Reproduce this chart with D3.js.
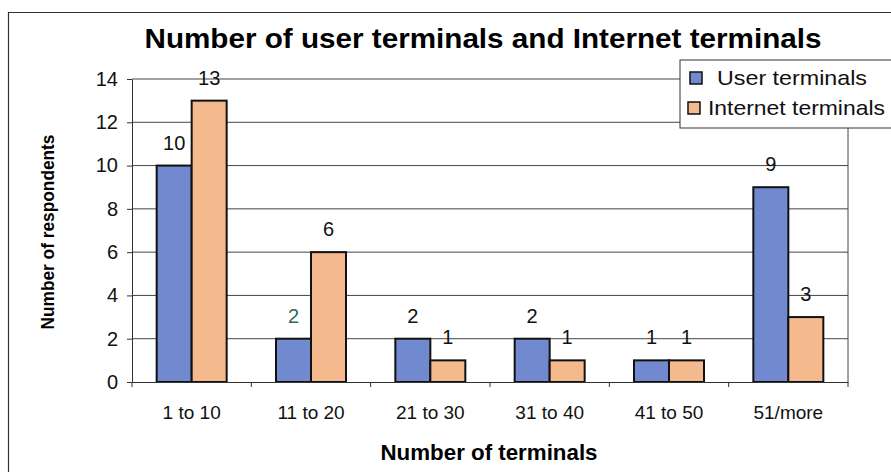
<!DOCTYPE html>
<html lang="en">
<head>
<meta charset="utf-8">
<title>Number of user terminals and Internet terminals</title>
<script src="https://cdn.jsdelivr.net/npm/d3@7"></script>
<style>
  body { margin: 0; background: #fff; font-family: "Liberation Sans", Arial, sans-serif; }
</style>
</head>
<body>
<div id="chart"></div>
<script>
var categories = ["1 to 10", "11 to 20", "21 to 30", "31 to 40", "41 to 50", "51/more"];
var userTerminals = [10, 2, 2, 2, 1, 9];
var internetTerminals = [13, 6, 1, 1, 1, 3];
var seriesNames = ["User terminals", "Internet terminals"];
var yTicks = [0, 2, 4, 6, 8, 10, 12, 14];

var W = 891, H = 474;
var margin = {top: 79, right: 43, bottom: 92, left: 132};
var w = W - margin.left - margin.right;
var h = H - margin.top - margin.bottom;

var colors = ["#7089cf", "#f5b98e"];
var fam = "Liberation Sans, Arial, sans-serif";

var svg = d3.select("#chart").append("svg")
  .attr("width", W).attr("height", H)
  .attr("font-family", fam);

// outer frame
svg.append("path")
  .attr("d", "M8.5,472 L8.5,12.5 L891,12.5")
  .attr("fill", "none").attr("stroke", "#333").attr("stroke-width", 1.2);

svg.append("text")
  .attr("x", 483).attr("y", 48)
  .attr("text-anchor", "middle")
  .attr("font-size", "27px").attr("font-weight", "bold")
  .attr("textLength", 677).attr("lengthAdjust", "spacingAndGlyphs")
  .text("Number of user terminals and Internet terminals");

var g = svg.append("g").attr("transform", "translate(" + margin.left + "," + margin.top + ")");

var x0 = d3.scaleBand().domain(categories).range([0, w]);
var x1 = d3.scaleBand().domain(seriesNames).range([0, 70]);
var y = d3.scaleLinear().domain([0, 14]).range([h, 0]);

// grid
g.selectAll("line.grid").data(yTicks.slice(1)).enter().append("line")
  .attr("class", "grid")
  .attr("x1", 0).attr("x2", w)
  .attr("y1", function(d){ return y(d); }).attr("y2", function(d){ return y(d); })
  .attr("stroke", "#444").attr("stroke-width", 1);

// right border of plot
g.append("line").attr("x1", w).attr("x2", w).attr("y1", 0).attr("y2", h)
  .attr("stroke", "#444").attr("stroke-width", 1);

var rows = categories.map(function(c, i){ return {cat: c, vals: [userTerminals[i], internetTerminals[i]]}; });

var groups = g.selectAll("g.grp").data(rows).enter().append("g")
  .attr("class", "grp")
  .attr("transform", function(d){ return "translate(" + (x0(d.cat) + (x0.bandwidth() - 70) / 2) + ",0)"; });

groups.selectAll("rect").data(function(d){ return d.vals.map(function(v, j){ return {v: v, s: seriesNames[j], j: j}; }); })
  .enter().append("rect")
  .attr("x", function(d){ return x1(d.s); })
  .attr("y", function(d){ return y(d.v); })
  .attr("width", x1.bandwidth())
  .attr("height", function(d){ return h - y(d.v); })
  .attr("fill", function(d){ return colors[d.j]; })
  .attr("stroke", "#111").attr("stroke-width", 2);

groups.selectAll("text").data(function(d){ return d.vals.map(function(v, j){ return {v: v, s: seriesNames[j], j: j, cat: d.cat}; }); })
  .enter().append("text")
  .attr("x", function(d){ return x1(d.s) + x1.bandwidth() / 2; })
  .attr("y", function(d){ return y(d.v) - 16; })
  .attr("text-anchor", "middle")
  .attr("font-size", "20px")
  .attr("fill", function(d){ return (d.cat === "11 to 20" && d.j === 0) ? "#2f6e52" : "#111"; })
  .text(function(d){ return d.v; });

// axes
var yAxis = g.append("g")
  .call(d3.axisLeft(y).tickValues(yTicks).tickSize(5).tickSizeOuter(0).tickPadding(9));
yAxis.selectAll("text").attr("font-size", "20px").attr("fill", "#111").attr("font-family", fam);
yAxis.selectAll("line, path").attr("stroke", "#333");

var xAxis = g.append("g").attr("transform", "translate(0," + h + ")")
  .call(d3.axisBottom(x0).tickSize(0).tickPadding(24));
xAxis.selectAll("text").attr("font-size", "19px").attr("fill", "#111").attr("font-family", fam);
xAxis.select("path").attr("stroke", "#333");
// category separator ticks
xAxis.selectAll("line.sep").data(d3.range(categories.length + 1)).enter().append("line")
  .attr("class", "sep")
  .attr("x1", function(i){ return i * x0.step(); }).attr("x2", function(i){ return i * x0.step(); })
  .attr("y1", 0).attr("y2", 5).attr("stroke", "#333");

// axis titles
svg.append("text")
  .attr("transform", "translate(54,232) rotate(-90)")
  .attr("text-anchor", "middle")
  .attr("font-size", "18px").attr("font-weight", "bold")
  .attr("textLength", 195).attr("lengthAdjust", "spacingAndGlyphs")
  .text("Number of respondents");

svg.append("text")
  .attr("x", 489).attr("y", 460)
  .attr("text-anchor", "middle")
  .attr("font-size", "22px").attr("font-weight", "bold")
  .attr("textLength", 217).attr("lengthAdjust", "spacingAndGlyphs")
  .text("Number of terminals");

// legend
var lg = svg.append("g").attr("transform", "translate(680,60)");
lg.append("rect").attr("x", 0).attr("y", 0).attr("width", 220).attr("height", 68)
  .attr("fill", "#fff").attr("stroke", "#333").attr("stroke-width", 1);
var items = lg.selectAll("g.item").data(seriesNames).enter().append("g")
  .attr("class", "item")
  .attr("transform", function(d, i){ return "translate(0," + (i * 30) + ")"; });
items.append("rect")
  .attr("x", function(d, i){ return i === 0 ? 10 : 8; }).attr("y", 12)
  .attr("width", 12).attr("height", 12)
  .attr("fill", function(d, i){ return colors[i]; })
  .attr("stroke", "#111").attr("stroke-width", 1.5);
items.append("text")
  .attr("x", function(d, i){ return i === 0 ? 37 : 28; }).attr("y", 25)
  .attr("font-size", "21px").attr("fill", "#111")
  .attr("textLength", function(d, i){ return i === 0 ? 150 : 177; })
  .attr("lengthAdjust", "spacingAndGlyphs")
  .text(function(d){ return d; });
</script>
</body>
</html>
